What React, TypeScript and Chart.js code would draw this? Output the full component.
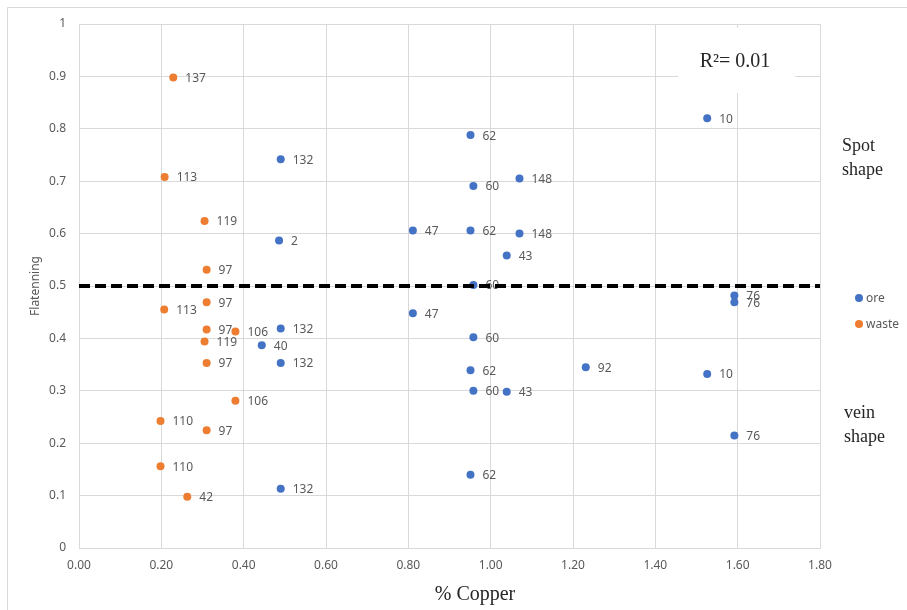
import React, { useEffect, useRef } from "react";
import { Chart, registerables } from "chart.js";

Chart.register(...registerables);

// ---- Data ----
const oreX = [0.49, 0.486, 0.49, 0.444, 0.49, 0.49, 0.951, 0.958, 1.07, 0.811, 0.951, 1.07, 1.039, 0.958, 0.811, 0.958, 0.951, 0.958, 1.039, 1.231, 0.951, 1.526, 1.592, 1.592, 1.526, 1.592];
const oreY = [0.742, 0.587, 0.419, 0.387, 0.353, 0.113, 0.788, 0.691, 0.705, 0.606, 0.606, 0.6, 0.558, 0.502, 0.448, 0.402, 0.339, 0.3, 0.298, 0.345, 0.14, 0.82, 0.482, 0.469, 0.332, 0.2145];
const oreLabels = ["132", "2", "132", "40", "132", "132", "62", "60", "148", "47", "62", "148", "43", "60", "47", "60", "62", "60", "43", "92", "62", "10", "76", "76", "10", "76"];

const wasteX = [0.229, 0.208, 0.305, 0.31, 0.31, 0.207, 0.31, 0.38, 0.305, 0.31, 0.38, 0.198, 0.31, 0.198, 0.263];
const wasteY = [0.898, 0.708, 0.624, 0.531, 0.469, 0.455, 0.417, 0.413, 0.394, 0.353, 0.281, 0.2425, 0.2246, 0.156, 0.098];
const wasteLabels = ["137", "113", "119", "97", "97", "113", "97", "106", "119", "97", "106", "110", "97", "110", "42"];

const thresholdX = [0, 1.8];
const thresholdY = [0.5, 0.5];

const seriesNames = ["ore", "waste"];
const xTitle = "% Copper";
const yTitle = "Flatenning";
const r2Text = "R²= 0.01";
const spotText = ["Spot", "shape"];
const veinText = ["vein", "shape"];

const ORE = "#4472C4";
const WASTE = "#ED7D31";
const GRID = "#d9d9d9";
const TXT = "#595959";
const SANS = "'Noto Sans', sans-serif";
const SERIF = "'Liberation Serif', serif";

const toPts = (xs: number[], ys: number[]) => xs.map((x, i) => ({ x, y: ys[i] }));

const decorPlugin = {
  id: "decor",
  beforeDraw(chart: any) {
    const ctx = chart.ctx;
    ctx.save();
    ctx.fillStyle = "#ffffff";
    ctx.fillRect(0, 0, chart.width, chart.height);
    ctx.strokeStyle = GRID;
    ctx.lineWidth = 1;
    ctx.beginPath();
    ctx.moveTo(7.5, chart.height);
    ctx.lineTo(7.5, 7.5);
    ctx.lineTo(chart.width, 7.5);
    ctx.stroke();
    ctx.restore();
  },
  beforeDatasetsDraw(chart: any) {
    const ctx = chart.ctx;
    ctx.save();
    // white box behind R² text
    ctx.fillStyle = "#ffffff";
    ctx.fillRect(678, 28, 117, 65);
    ctx.fillStyle = "#262626";
    ctx.font = `20px ${SERIF}`;
    ctx.textAlign = "center";
    ctx.textBaseline = "middle";
    ctx.fillText(r2Text, 735, 62);
    ctx.restore();
  },
  afterDatasetDraw(chart: any, args: any) {
    const ds = chart.data.datasets[args.index] as any;
    if (!ds.pointLabels) return;
    const ctx = chart.ctx;
    ctx.save();
    ctx.fillStyle = TXT;
    ctx.font = `12px ${SANS}`;
    ctx.textAlign = "left";
    ctx.textBaseline = "middle";
    args.meta.data.forEach((el: any, i: number) => {
      ctx.fillText(ds.pointLabels[i], el.x + 12, el.y + 1);
    });
    ctx.restore();
  },
  afterDraw(chart: any) {
    const ctx = chart.ctx;
    const area = chart.chartArea;
    ctx.save();
    // y title
    ctx.fillStyle = TXT;
    ctx.font = `12px ${SANS}`;
    ctx.textAlign = "center";
    ctx.textBaseline = "middle";
    ctx.translate(36, (area.top + area.bottom) / 2);
    ctx.rotate(-Math.PI / 2);
    ctx.fillText(yTitle, 0, 0);
    ctx.restore();

    ctx.save();
    ctx.fillStyle = "#262626";
    ctx.font = `20px ${SERIF}`;
    ctx.textAlign = "center";
    ctx.textBaseline = "middle";
    ctx.fillText(xTitle, 475, 595);

    ctx.font = `18px ${SERIF}`;
    ctx.textAlign = "left";
    ctx.textBaseline = "alphabetic";
    ctx.fillText(spotText[0], 842, 151);
    ctx.fillText(spotText[1], 842, 175);
    ctx.fillText(veinText[0], 844, 418);
    ctx.fillText(veinText[1], 844, 442);

    // legend
    const colors = [ORE, WASTE];
    ctx.font = `12px ${SANS}`;
    ctx.textBaseline = "middle";
    seriesNames.forEach((n, i) => {
      const y = 298 + i * 26;
      ctx.fillStyle = colors[i];
      ctx.beginPath();
      ctx.arc(859, y, 4, 0, Math.PI * 2);
      ctx.fill();
      ctx.fillStyle = TXT;
      ctx.fillText(n, 866, y + 1);
    });
    ctx.restore();
  },
};

export default function App() {
  const ref = useRef<HTMLCanvasElement | null>(null);
  useEffect(() => {
    if (!ref.current) return;
    const chart = new Chart(ref.current, {
      type: "scatter",
      data: {
        datasets: [
          {
            label: "threshold",
            type: "line",
            data: toPts(thresholdX, thresholdY),
            borderColor: "#000000",
            borderWidth: 4,
            borderDash: [11, 5],
            pointRadius: 0,
            showLine: true,
            fill: false,
            order: 0,
          } as any,
          {
            label: seriesNames[0],
            data: toPts(oreX, oreY),
            backgroundColor: ORE,
            borderColor: ORE,
            borderWidth: 0,
            pointRadius: 4,
            pointLabels: oreLabels,
            order: 2,
          } as any,
          {
            label: seriesNames[1],
            data: toPts(wasteX, wasteY),
            backgroundColor: WASTE,
            borderColor: WASTE,
            borderWidth: 0,
            pointRadius: 4,
            pointLabels: wasteLabels,
            order: 1,
          } as any,
        ],
      },
      options: {
        animation: false,
        responsive: false,
        maintainAspectRatio: false,
        devicePixelRatio: 1,
        layout: { padding: { top: 24, right: 87, left: 0, bottom: 0 } },
        plugins: { legend: { display: false }, tooltip: { enabled: false } },
        scales: {
          x: {
            type: "linear",
            min: 0,
            max: 1.8,
            ticks: {
              stepSize: 0.2,
              padding: 10,
              color: TXT,
              font: { family: SANS, size: 12 },
              callback: (v: any) => Number(v).toFixed(2),
            },
            grid: { color: GRID, drawTicks: false },
            border: { color: GRID },
            afterFit: (s: any) => {
              s.height = 62;
            },
          },
          y: {
            type: "linear",
            min: 0,
            max: 1,
            ticks: {
              stepSize: 0.1,
              padding: 13,
              color: TXT,
              font: { family: SANS, size: 12 },
              callback: (v: any) => String(Math.round(Number(v) * 10) / 10),
            },
            grid: { color: GRID, drawTicks: false },
            border: { color: GRID },
            afterFit: (s: any) => {
              s.width = 79;
            },
          },
        },
      } as any,
      plugins: [decorPlugin],
    });
    return () => chart.destroy();
  }, []);
  return (
    <div style={{ position: "absolute", left: 0, top: 0, width: 907, height: 610 }}>
      <canvas ref={ref} width={907} height={610} style={{ width: 907, height: 610 }} />
    </div>
  );
}
